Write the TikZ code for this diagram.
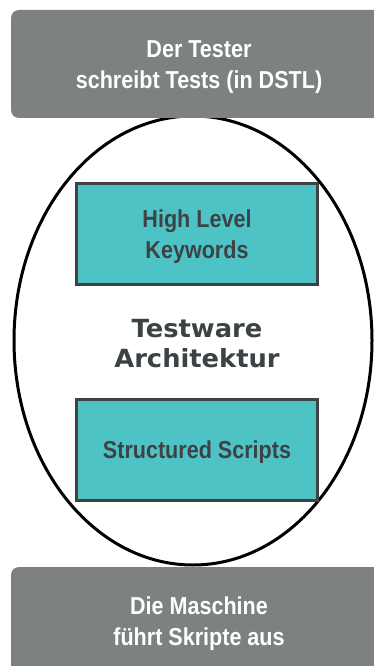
\documentclass[tikz,border=0pt]{standalone}
\usepackage{fontspec}
\setmainfont{Liberation Sans}[FakeStretch=0.88]
\newfontfamily\archfont{DejaVu Sans}[FakeStretch=1.03]
\usepackage{tikz}
\usetikzlibrary{shapes.geometric, positioning}
\definecolor{boxgray}{HTML}{7E8182}
\definecolor{keyteal}{HTML}{4EC3C6}
\definecolor{darktext}{HTML}{3D4245}

\begin{document}
\begin{tikzpicture}[x=1pt, y=-1pt,
    actor/.style={rectangle, rounded corners=8pt, fill=boxgray, minimum width=374pt, minimum height=108pt},
    actortext/.style={text=white, align=center, inner sep=0pt, font=\bfseries\fontsize{24.5}{31}\selectfont},
    layer/.style={rectangle, draw=darktext, line width=3pt, fill=keyteal, text=darktext, minimum width=241pt, minimum height=101pt, align=center, text depth=0pt, font=\bfseries\fontsize{24.5}{30.5}\selectfont}]
            \clip (0,0) rectangle (374,666);
            \fill[white] (0,0) rectangle (374,666);

            \node (arch) [ellipse, draw, line width=3pt, inner sep=0pt, minimum width=358pt, minimum height=449pt] at (193,340.5) {};
            \node (title) [text=darktext, align=center, inner sep=0pt, font=\archfont\bfseries\fontsize{25}{30}\selectfont] at (197,343.5) {Testware\\Architektur};

            \node (keywords) [layer] at (197,234) {High Level\\Keywords};
            \node (scripts) [layer] at (197,450) {Structured Scripts};

            \node (tester) [actor] at (198,64) {};
            \node (testertext) [actortext] at (199,67.4) {Der Tester\\schreibt Tests (in DSTL)};
            \node (machine) [actor] at (198,621) {};
            \node (machinetext) [actortext] at (199,623.4) {Die Maschine\\führt Skripte aus};
        \end{tikzpicture}
\end{document}
